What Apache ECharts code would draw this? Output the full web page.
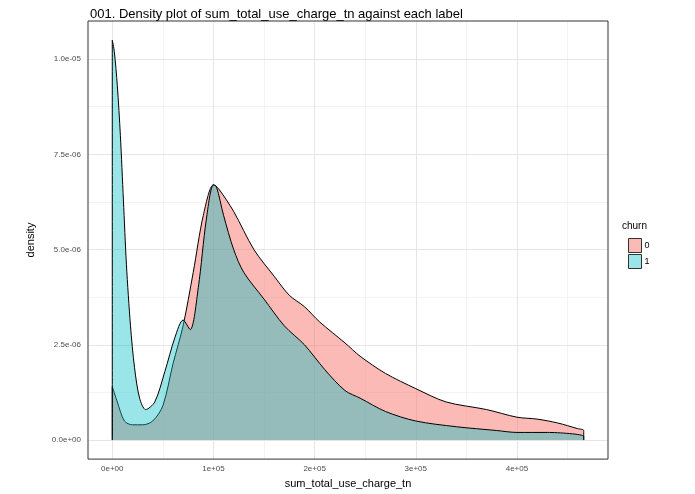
<!DOCTYPE html>
<html><head><meta charset="utf-8">
<script src="https://cdn.jsdelivr.net/npm/echarts@6/dist/echarts.min.js"></script>
<style>html,body{margin:0;background:#fff}#c{width:695px;height:494px}</style>
</head><body><div id="c"></div>
<script>
var churn0 = [[0,0],[0,1.4e-6],[0.05e5,1.0e-6],[0.12e5,0.5e-6],[0.2e5,0.4e-6],[0.3e5,0.4e-6],[0.4e5,0.5e-6],[0.5e5,0.9e-6],[0.6e5,2.0e-6],[0.7e5,3.0e-6],[0.8e5,4.4e-6],[0.9e5,5.9e-6],[1.0e5,6.7e-6],[1.05e5,6.6e-6],[1.2e5,6.0e-6],[1.4e5,5.0e-6],[1.6e5,4.3e-6],[1.75e5,3.8e-6],[1.9e5,3.5e-6],[2.05e5,3.1e-6],[2.3e5,2.55e-6],[2.45e5,2.2e-6],[2.7e5,1.75e-6],[3.0e5,1.35e-6],[3.3e5,1.0e-6],[3.7e5,0.8e-6],[4.0e5,0.6e-6],[4.2e5,0.55e-6],[4.4e5,0.45e-6],[4.6e5,0.3e-6],[4.66e5,0.25e-6],[4.66e5,0]];
var churn1 = [[0,0],[0,10.5e-6],[0.02e5,10.2e-6],[0.05e5,9.3e-6],[0.08e5,8.0e-6],[0.11e5,6.3e-6],[0.14e5,4.6e-6],[0.18e5,3.0e-6],[0.22e5,1.9e-6],[0.27e5,1.1e-6],[0.33e5,0.8e-6],[0.42e5,1.0e-6],[0.52e5,1.8e-6],[0.62e5,2.7e-6],[0.7e5,3.15e-6],[0.77e5,2.9e-6],[0.85e5,4.0e-6],[0.93e5,5.8e-6],[1.0e5,6.7e-6],[1.03e5,6.65e-6],[1.1e5,5.9e-6],[1.2e5,5.0e-6],[1.3e5,4.4e-6],[1.5e5,3.7e-6],[1.7e5,3.0e-6],[1.9e5,2.5e-6],[2.1e5,1.85e-6],[2.3e5,1.3e-6],[2.45e5,1.1e-6],[2.7e5,0.75e-6],[3.0e5,0.5e-6],[3.4e5,0.35e-6],[3.8e5,0.25e-6],[4.0e5,0.2e-6],[4.3e5,0.2e-6],[4.66e5,0.1e-6],[4.66e5,0]];
var groups = ['0','1'];
var xMajor = [0, 1e5, 2e5, 3e5, 4e5];
var xMinor = [-0.5e5, 0.5e5, 1.5e5, 2.5e5, 3.5e5, 4.5e5];
var yMajor = [0, 2.5e-6, 5e-6, 7.5e-6, 1e-5];
var yMinor = [1.25e-6, 3.75e-6, 6.25e-6, 8.75e-6];
var X0 = -24000, X1 = 490000;

function fmtExp(v, d) {
  var s = v.toExponential(d).split('e');
  var e = parseInt(s[1], 10);
  return s[0] + 'e' + (e < 0 ? '-' : '+') + (Math.abs(e) < 10 ? '0' : '') + Math.abs(e);
}
function vl(list, color) {
  return list.map(function (v) { return {xAxis: v, lineStyle: {color: color, width: 1, type: 'solid'}}; });
}
function hl(list, color) {
  return list.map(function (v) {
    return [{coord: [X0, v], lineStyle: {color: color, width: 1, type: 'solid'}}, {coord: [X1, v]}];
  });
}
var gridLines = [].concat(vl(xMinor, '#f3f3f3'), hl(yMinor, '#f3f3f3'), vl(xMajor, '#e5e5e5'), hl(yMajor, '#e5e5e5'));

var chart = echarts.init(document.getElementById('c'));
chart.setOption({
  animation: false,
  textStyle: {fontFamily: 'Liberation Sans'},
  title: {text: '001. Density plot of sum_total_use_charge_tn against each label', left: 85, top: 3,
    textStyle: {fontSize: 13, fontWeight: 'normal', color: '#000'}},
  grid: {left: 88, right: 87, top: 21, bottom: 29, show: true, borderColor: '#333', borderWidth: 1},
  legend: {orient: 'vertical', left: 623, top: 233, icon: 'rect', itemWidth: 13, itemHeight: 14, itemGap: 1,
    itemStyle: {borderColor: '#333', borderWidth: 1},
    textStyle: {fontSize: 9, color: '#000', padding: [0, 0, 0, -2]}, data: groups},
  graphic: [{type: 'text', left: 622, top: 221, style: {text: 'churn', fontSize: 10, fill: '#000', fontFamily: 'Liberation Sans'}}],
  xAxis: {type: 'value', min: X0, max: X1, interval: 4000,
    name: 'sum_total_use_charge_tn', nameLocation: 'middle', nameGap: 17, nameTextStyle: {fontSize: 11, color: '#000'},
    axisLine: {show: false}, axisTick: {show: false}, splitLine: {show: false},
    axisLabel: {interval: 0, fontSize: 8, color: '#4d4d4d', margin: 6, formatter: function (v) {
      var k = Math.round(v / 4000); return (k % 25 === 0 && k >= 0) ? fmtExp(v, 0) : ''; }}},
  yAxis: {type: 'value', min: -5e-7, max: 11e-6, interval: 2.5e-7,
    name: 'density', nameLocation: 'middle', nameGap: 52, nameTextStyle: {fontSize: 11, color: '#000'},
    axisLine: {show: false}, axisTick: {show: false}, splitLine: {show: false},
    axisLabel: {interval: 0, fontSize: 8, color: '#4d4d4d', margin: 7, formatter: function (v) {
      var k = Math.round(v / 2.5e-7); return (k % 10 === 0 && k >= 0) ? fmtExp(v, 1) : ''; }}},
  series: [
    {name: 'grid', type: 'line', data: [[0, 0]], symbol: 'none', lineStyle: {width: 0}, silent: true, z: -10,
      markLine: {silent: true, symbol: 'none', label: {show: false}, animation: false, z: -10, data: gridLines}},
    {name: '0', type: 'line', data: churn0, smooth: 0.3, symbol: 'none', color: 'rgba(248,118,109,0.5)', z: 2,
      lineStyle: {color: '#000', width: 1}, areaStyle: {color: 'rgba(248,118,109,0.5)', opacity: 1}},
    {name: '1', type: 'line', data: churn1, smooth: 0.3, symbol: 'none', color: 'rgba(0,191,196,0.4)', z: 3,
      lineStyle: {color: '#000', width: 1}, areaStyle: {color: 'rgba(0,191,196,0.4)', opacity: 1}}
  ]
});
</script></body></html>
